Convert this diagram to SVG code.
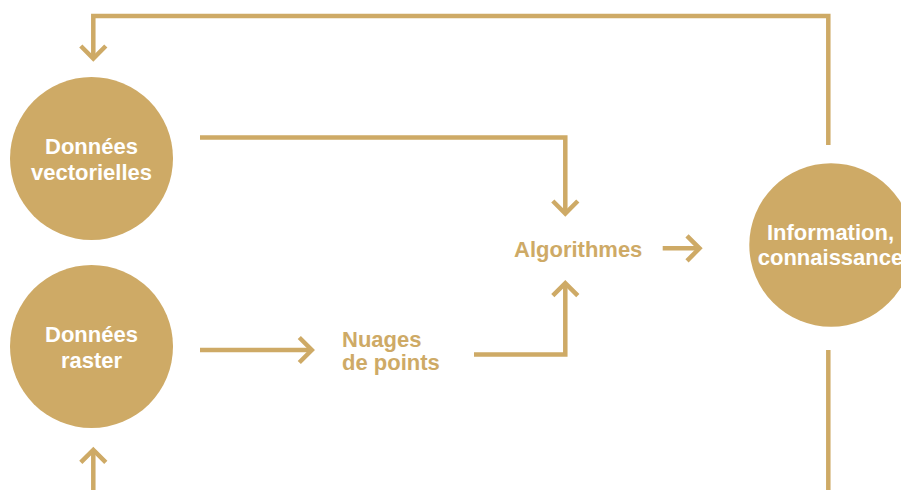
<svg xmlns="http://www.w3.org/2000/svg" width="901" height="490" viewBox="0 0 901 490">
  <defs>
    <style>
      .node { fill: #CEAA66; }
      .inner { fill: #FFFFFF; font-family: "Liberation Sans", Arial, sans-serif; font-weight: bold; font-size: 22px; text-anchor: middle; }
      .label { fill: #CEAA66; font-family: "Liberation Sans", Arial, sans-serif; font-weight: bold; font-size: 22px; }
      .link { fill: none; stroke: #CEAA66; stroke-width: 4.5; stroke-linejoin: miter; }
    </style>
    <marker id="chevron" markerUnits="userSpaceOnUse" viewBox="-16 -16 24 32" refX="0" refY="0" markerWidth="24" markerHeight="32" orient="auto" overflow="visible">
      <path d="M -12.5 -12.5 L 0 0 L -12.5 12.5" fill="none" stroke="#CEAA66" stroke-width="4.5" stroke-linejoin="miter"/>
    </marker>
  </defs>

  <rect width="901" height="490" fill="#FFFFFF"/>

  <!-- connectors -->
  <g id="connectors">
    <path class="link" d="M 828.3 145 V 16 H 93.3 V 58.5" marker-end="url(#chevron)"/>
    <path class="link" d="M 200 137.5 H 565.3 V 213.5" marker-end="url(#chevron)"/>
    <path class="link" d="M 474 354.5 H 565.3 V 283.2" marker-end="url(#chevron)"/>
    <path class="link" d="M 200 350 H 311.8" marker-end="url(#chevron)"/>
    <path class="link" d="M 662.7 248.3 H 699.5" marker-end="url(#chevron)"/>
    <path class="link" d="M 828.3 350 V 495"/>
    <path class="link" d="M 93.3 495 V 449.9" marker-end="url(#chevron)"/>
  </g>

  <!-- nodes -->
  <g id="donnees-vectorielles">
    <circle class="node" cx="91.5" cy="158.5" r="81.5"/>
    <text class="inner" x="91.5" y="154">Données</text>
    <text class="inner" x="91.5" y="180">vectorielles</text>
  </g>

  <g id="donnees-raster">
    <circle class="node" cx="91.5" cy="346.5" r="81.5"/>
    <text class="inner" x="91.5" y="342">Données</text>
    <text class="inner" x="91.5" y="368">raster</text>
  </g>

  <g id="information">
    <circle class="node" cx="831" cy="245" r="81.7"/>
    <text class="inner" x="830.5" y="239.5">Information,</text>
    <text class="inner" x="830.5" y="265">connaissance</text>
  </g>

  <g id="nuages-de-points">
    <text class="label" x="342" y="346.7">Nuages</text>
    <text class="label" x="342" y="370">de points</text>
  </g>

  <g id="algorithmes">
    <text class="label" x="514" y="256.7">Algorithmes</text>
  </g>
</svg>
